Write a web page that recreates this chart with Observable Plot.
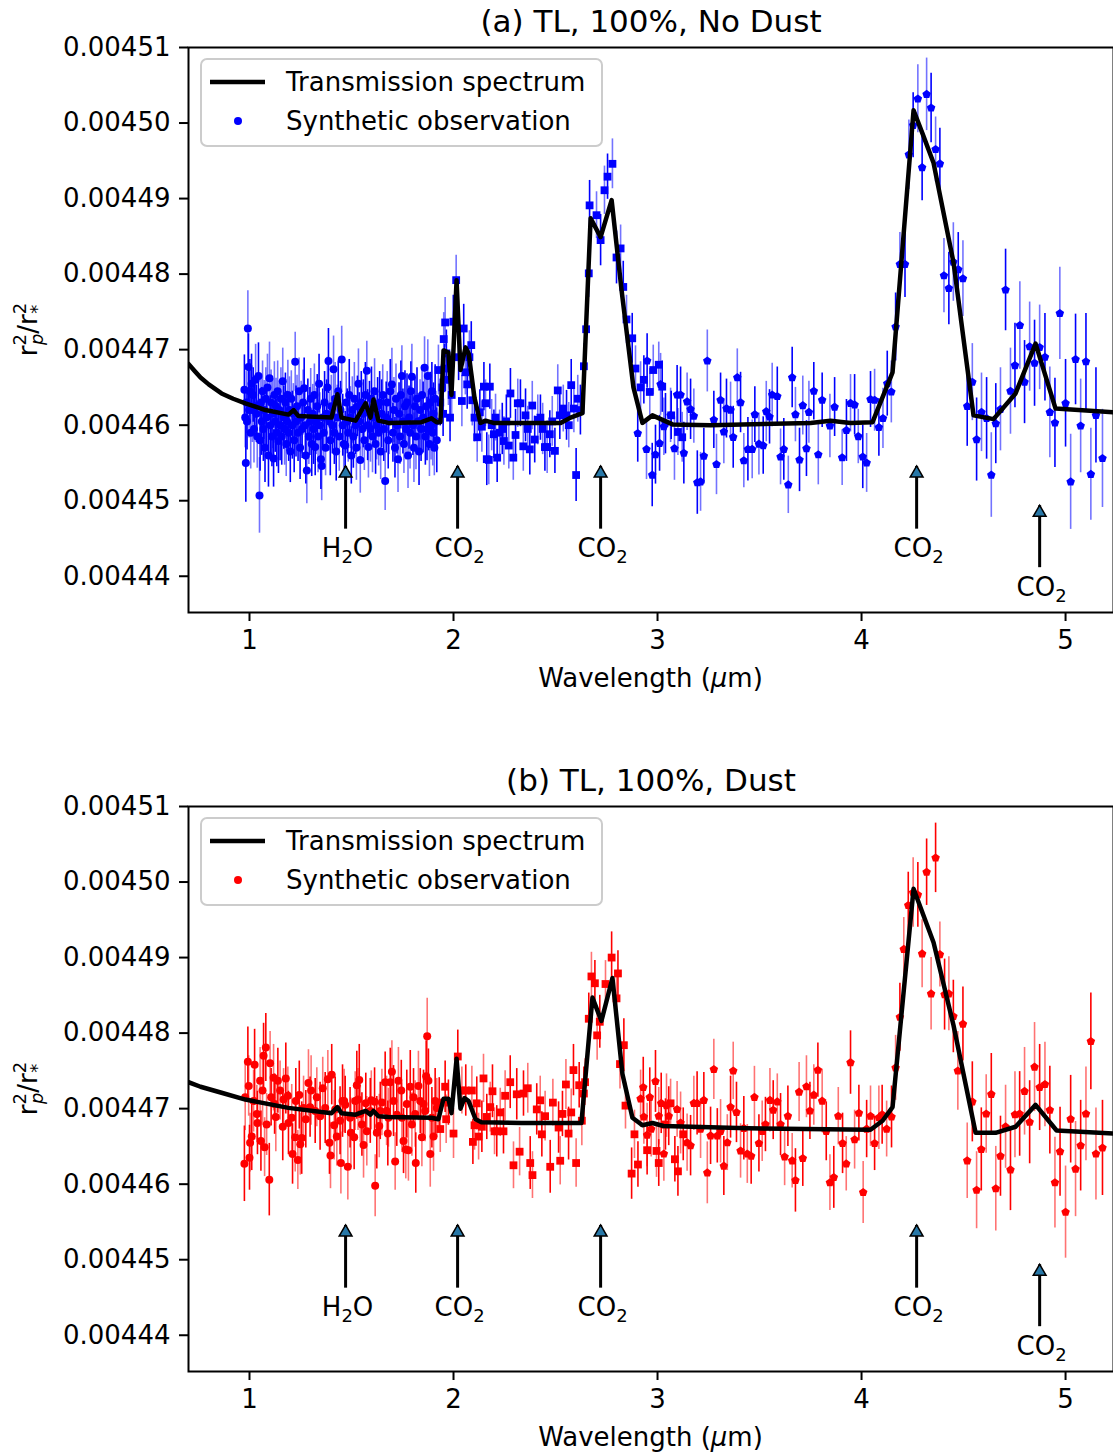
<!DOCTYPE html>
<html><head><meta charset="utf-8">
<script src="https://cdn.jsdelivr.net/npm/d3@7"></script>
<script src="https://cdn.jsdelivr.net/npm/@observablehq/plot@0.6"></script>
<style>
body{margin:0;background:#fff;}
#chart svg{display:block;}
</style></head><body><div id="chart"></div>
<script>
// ---------- axis ticks ----------
const xTicks = [1, 2, 3, 4, 5];
const yTicks = [0.00444, 0.00445, 0.00446, 0.00447, 0.00448, 0.00449, 0.00450, 0.00451];

// ---------- absorption feature annotations ----------
const annotWl = [1.471, 2.020, 2.721, 4.270, 4.873];
const annotLabel = ["H₂O", "CO₂", "CO₂", "CO₂", "CO₂"];
const annotTip = [445.46e-5, 445.46e-5, 445.46e-5, 445.46e-5, 444.94e-5];
const annotBase = [444.63e-5, 444.63e-5, 444.63e-5, 444.63e-5, 444.12e-5];

// ---------- (a) model transmission spectrum [wavelength, depth] ----------
const modelA = [[0.701,446.81e-5],[0.730,446.72e-5],[0.760,446.63e-5],[0.800,446.54e-5],[0.863,446.42e-5],[0.920,446.35e-5],[0.980,446.29e-5],[1.078,446.20e-5],[1.191,446.14e-5],[1.216,446.20e-5],[1.240,446.12e-5],[1.402,446.10e-5],[1.431,446.41e-5],[1.451,446.10e-5],[1.520,446.06e-5],[1.569,446.29e-5],[1.593,446.10e-5],[1.608,446.34e-5],[1.632,446.06e-5],[1.681,446.03e-5],[1.843,446.04e-5],[1.892,446.09e-5],[1.917,446.04e-5],[1.936,446.04e-5],[1.951,446.99e-5],[1.975,446.96e-5],[1.990,446.40e-5],[2.015,447.92e-5],[2.034,446.73e-5],[2.059,447.03e-5],[2.074,446.95e-5],[2.103,446.36e-5],[2.132,446.03e-5],[2.157,446.06e-5],[2.196,446.03e-5],[2.525,446.03e-5],[2.574,446.10e-5],[2.632,446.16e-5],[2.672,448.74e-5],[2.721,448.49e-5],[2.775,448.98e-5],[2.824,447.78e-5],[2.882,446.50e-5],[2.926,446.03e-5],[2.975,446.13e-5],[3.074,446.01e-5],[3.260,446.00e-5],[3.750,446.03e-5],[3.848,446.06e-5],[3.946,446.03e-5],[4.054,446.04e-5],[4.152,446.70e-5],[4.255,450.17e-5],[4.299,449.86e-5],[4.353,449.47e-5],[4.451,448.15e-5],[4.549,446.13e-5],[4.647,446.08e-5],[4.755,446.42e-5],[4.853,447.08e-5],[4.951,446.22e-5],[5.235,446.17e-5]];

// ---------- (b) model transmission spectrum ----------
const modelB = [[0.701,447.35e-5],[0.760,447.29e-5],[0.863,447.21e-5],[0.980,447.12e-5],[1.191,447.01e-5],[1.402,446.94e-5],[1.431,447.02e-5],[1.451,446.94e-5],[1.520,446.92e-5],[1.569,446.97e-5],[1.593,446.92e-5],[1.608,446.97e-5],[1.632,446.90e-5],[1.681,446.89e-5],[1.892,446.88e-5],[1.926,446.86e-5],[1.951,447.13e-5],[1.975,447.13e-5],[1.990,446.94e-5],[2.015,447.66e-5],[2.034,447.00e-5],[2.054,447.14e-5],[2.074,447.10e-5],[2.108,446.86e-5],[2.137,446.82e-5],[2.333,446.81e-5],[2.627,446.81e-5],[2.681,448.47e-5],[2.725,448.16e-5],[2.779,448.73e-5],[2.828,447.46e-5],[2.877,446.88e-5],[2.926,446.78e-5],[2.975,446.81e-5],[3.029,446.77e-5],[3.441,446.74e-5],[4.044,446.72e-5],[4.103,446.84e-5],[4.152,447.02e-5],[4.255,449.91e-5],[4.353,449.20e-5],[4.451,448.10e-5],[4.559,446.68e-5],[4.657,446.68e-5],[4.755,446.76e-5],[4.853,447.05e-5],[4.956,446.71e-5],[5.235,446.67e-5]];

// ---------- (a) synthetic observations [wavelength, depth, 1σ] ----------
const obsA_circ = [[0.975,446.47e-5,4.6e-6],[0.979,446.10e-5,4.0e-6],[0.982,445.50e-5,5.2e-6],[0.985,446.30e-5,4.1e-6],[0.988,446.05e-5,3.8e-6],[0.992,447.28e-5,5.0e-6],[0.995,446.77e-5,4.4e-6],[0.998,446.20e-5,3.7e-6],[1.002,446.45e-5,4.2e-6],[1.006,445.90e-5,4.8e-6],[1.010,446.55e-5,3.9e-6],[1.014,446.20e-5,4.3e-6],[1.018,446.40e-5,3.6e-6],[1.022,445.95e-5,4.5e-6],[1.026,446.25e-5,4.0e-6],[1.030,446.60e-5,4.7e-6],[1.034,446.15e-5,3.8e-6],[1.038,445.85e-5,4.2e-6],[1.044,446.65e-5,4.4e-6],[1.049,445.07e-5,5.0e-6],[1.052,445.80e-5,4.1e-6],[1.056,446.30e-5,3.7e-6],[1.060,446.05e-5,4.5e-6],[1.064,446.45e-5,4.0e-6],[1.068,445.95e-5,4.3e-6],[1.072,446.20e-5,3.9e-6],[1.076,445.70e-5,4.6e-6],[1.080,446.35e-5,4.1e-6],[1.084,446.10e-5,3.8e-6],[1.088,446.50e-5,4.4e-6],[1.093,445.60e-5,4.2e-6],[1.098,446.62e-5,4.8e-6],[1.102,446.00e-5,3.9e-6],[1.106,446.30e-5,4.3e-6],[1.110,445.85e-5,4.0e-6],[1.114,446.15e-5,4.6e-6],[1.118,445.56e-5,3.8e-6],[1.122,446.40e-5,4.4e-6],[1.126,446.05e-5,4.1e-6],[1.130,446.25e-5,3.7e-6],[1.134,445.90e-5,4.5e-6],[1.138,446.45e-5,4.0e-6],[1.142,445.79e-5,4.3e-6],[1.146,446.20e-5,3.9e-6],[1.150,446.00e-5,4.7e-6],[1.154,446.35e-5,4.1e-6],[1.158,445.85e-5,3.8e-6],[1.163,446.58e-5,4.4e-6],[1.168,446.10e-5,4.2e-6],[1.172,445.95e-5,4.8e-6],[1.176,446.30e-5,3.9e-6],[1.180,445.75e-5,4.3e-6],[1.184,446.05e-5,4.0e-6],[1.188,446.40e-5,4.6e-6],[1.192,445.90e-5,3.8e-6],[1.196,446.20e-5,4.4e-6],[1.200,445.65e-5,4.1e-6],[1.205,446.35e-5,3.7e-6],[1.210,446.00e-5,4.5e-6],[1.215,446.15e-5,4.0e-6],[1.219,445.80e-5,4.3e-6],[1.224,446.84e-5,3.9e-6],[1.228,446.05e-5,4.7e-6],[1.233,446.25e-5,4.1e-6],[1.238,445.90e-5,3.8e-6],[1.243,446.45e-5,4.4e-6],[1.248,445.70e-5,4.2e-6],[1.253,446.10e-5,4.8e-6],[1.258,445.95e-5,3.9e-6],[1.263,446.30e-5,4.3e-6],[1.268,446.49e-5,4.0e-6],[1.272,446.00e-5,4.6e-6],[1.276,445.60e-5,3.8e-6],[1.281,445.40e-5,4.4e-6],[1.286,446.20e-5,4.1e-6],[1.291,445.85e-5,3.7e-6],[1.296,446.05e-5,4.5e-6],[1.300,446.35e-5,4.0e-6],[1.305,445.75e-5,4.3e-6],[1.310,446.15e-5,3.9e-6],[1.314,445.95e-5,4.7e-6],[1.318,446.40e-5,4.1e-6],[1.322,445.71e-5,3.8e-6],[1.327,446.05e-5,4.4e-6],[1.332,446.25e-5,4.2e-6],[1.336,445.85e-5,4.8e-6],[1.341,446.55e-5,3.9e-6],[1.345,446.00e-5,4.3e-6],[1.350,445.55e-5,4.0e-6],[1.354,445.46e-5,4.6e-6],[1.359,446.10e-5,3.8e-6],[1.364,445.90e-5,4.4e-6],[1.368,446.30e-5,4.1e-6],[1.373,445.70e-5,3.7e-6],[1.378,446.15e-5,4.5e-6],[1.382,446.50e-5,4.0e-6],[1.387,446.85e-5,4.3e-6],[1.392,446.05e-5,3.9e-6],[1.396,445.80e-5,4.7e-6],[1.401,446.25e-5,4.1e-6],[1.406,446.00e-5,3.8e-6],[1.412,446.74e-5,4.4e-6],[1.416,445.90e-5,4.2e-6],[1.420,446.35e-5,4.8e-6],[1.425,445.65e-5,3.9e-6],[1.430,446.10e-5,4.3e-6],[1.435,446.45e-5,4.0e-6],[1.440,445.85e-5,4.6e-6],[1.446,446.20e-5,3.8e-6],[1.452,446.87e-5,4.4e-6],[1.457,446.00e-5,4.1e-6],[1.462,445.75e-5,3.7e-6],[1.469,445.73e-5,4.5e-6],[1.474,446.30e-5,4.0e-6],[1.479,446.05e-5,4.3e-6],[1.484,445.90e-5,3.9e-6],[1.489,446.40e-5,4.7e-6],[1.494,446.10e-5,4.1e-6],[1.499,445.60e-5,3.8e-6],[1.504,446.20e-5,4.4e-6],[1.509,445.85e-5,4.2e-6],[1.514,446.35e-5,4.8e-6],[1.519,446.00e-5,3.9e-6],[1.524,445.70e-5,4.3e-6],[1.529,446.25e-5,4.0e-6],[1.534,446.55e-5,4.6e-6],[1.538,446.05e-5,3.8e-6],[1.543,445.54e-5,4.4e-6],[1.548,446.30e-5,4.1e-6],[1.553,445.95e-5,3.7e-6],[1.558,446.15e-5,4.5e-6],[1.563,445.80e-5,4.0e-6],[1.568,446.40e-5,4.3e-6],[1.575,446.72e-5,3.9e-6],[1.579,446.00e-5,4.7e-6],[1.583,445.71e-5,4.1e-6],[1.588,446.20e-5,3.8e-6],[1.593,445.95e-5,4.4e-6],[1.598,446.35e-5,4.2e-6],[1.603,445.85e-5,4.8e-6],[1.608,446.10e-5,3.9e-6],[1.613,446.45e-5,4.3e-6],[1.618,445.75e-5,4.0e-6],[1.623,446.00e-5,4.6e-6],[1.628,446.25e-5,3.8e-6],[1.633,445.90e-5,4.4e-6],[1.638,446.30e-5,4.1e-6],[1.643,445.65e-5,3.7e-6],[1.648,446.15e-5,4.5e-6],[1.653,446.40e-5,4.0e-6],[1.658,445.95e-5,4.3e-6],[1.665,445.26e-5,3.9e-6],[1.670,446.10e-5,4.7e-6],[1.675,446.30e-5,4.1e-6],[1.680,445.80e-5,3.8e-6],[1.685,446.05e-5,4.4e-6],[1.690,446.45e-5,4.2e-6],[1.698,446.54e-5,4.8e-6],[1.703,445.90e-5,3.9e-6],[1.708,446.20e-5,4.3e-6],[1.713,445.70e-5,4.0e-6],[1.718,446.35e-5,4.6e-6],[1.723,446.00e-5,3.8e-6],[1.728,445.55e-5,4.4e-6],[1.733,446.15e-5,4.1e-6],[1.738,445.85e-5,3.7e-6],[1.742,446.40e-5,4.5e-6],[1.747,446.65e-5,4.0e-6],[1.752,446.05e-5,4.3e-6],[1.757,445.75e-5,3.9e-6],[1.762,446.25e-5,4.7e-6],[1.767,445.95e-5,4.1e-6],[1.772,446.30e-5,3.8e-6],[1.777,445.60e-5,4.4e-6],[1.782,446.10e-5,4.2e-6],[1.787,445.90e-5,4.8e-6],[1.791,446.45e-5,3.9e-6],[1.796,446.64e-5,4.3e-6],[1.801,446.00e-5,4.0e-6],[1.806,445.70e-5,4.6e-6],[1.811,446.25e-5,3.8e-6],[1.816,445.85e-5,4.4e-6],[1.821,446.35e-5,4.1e-6],[1.826,446.05e-5,3.7e-6],[1.831,445.65e-5,4.5e-6],[1.836,446.20e-5,4.0e-6],[1.841,445.95e-5,4.3e-6],[1.846,446.40e-5,3.9e-6],[1.851,446.10e-5,4.7e-6],[1.858,446.76e-5,4.1e-6],[1.862,445.85e-5,3.8e-6],[1.866,446.25e-5,4.4e-6],[1.870,445.95e-5,4.2e-6],[1.874,446.65e-5,4.8e-6],[1.878,446.05e-5,3.9e-6],[1.882,445.75e-5,4.3e-6],[1.886,446.30e-5,4.0e-6],[1.890,446.00e-5,4.6e-6],[1.894,446.45e-5,3.8e-6],[1.898,445.90e-5,4.4e-6],[1.902,446.15e-5,4.1e-6],[1.906,445.70e-5,3.7e-6],[1.910,446.35e-5,4.5e-6],[1.914,446.05e-5,4.0e-6],[1.918,445.80e-5,4.3e-6]];

const obsA_sq = [[1.926,446.73e-5,3.3e-6],[1.935,446.30e-5,3.1e-6],[1.945,446.50e-5,3.4e-6],[1.949,446.15e-5,3.0e-6],[1.952,447.14e-5,3.5e-6],[1.956,446.75e-5,3.2e-6],[1.959,447.36e-5,3.3e-6],[1.965,446.95e-5,3.1e-6],[1.975,446.60e-5,3.4e-6],[1.983,446.10e-5,3.2e-6],[1.991,446.40e-5,3.0e-6],[1.999,447.37e-5,3.5e-6],[2.013,447.92e-5,3.3e-6],[2.025,446.90e-5,3.1e-6],[2.041,446.32e-5,3.4e-6],[2.050,447.28e-5,3.2e-6],[2.058,446.70e-5,3.0e-6],[2.067,446.54e-5,3.3e-6],[2.078,446.90e-5,3.5e-6],[2.087,447.06e-5,3.1e-6],[2.092,446.33e-5,3.4e-6],[2.103,446.10e-5,3.2e-6],[2.116,445.84e-5,3.3e-6],[2.129,446.17e-5,3.0e-6],[2.139,445.98e-5,3.4e-6],[2.149,446.51e-5,3.2e-6],[2.157,446.29e-5,3.1e-6],[2.163,445.55e-5,3.5e-6],[2.173,445.54e-5,3.3e-6],[2.178,446.51e-5,3.0e-6],[2.187,446.00e-5,3.4e-6],[2.198,445.88e-5,3.2e-6],[2.206,446.10e-5,3.1e-6],[2.214,445.57e-5,3.3e-6],[2.226,445.90e-5,3.0e-6],[2.239,445.95e-5,3.4e-6],[2.247,445.79e-5,3.2e-6],[2.259,446.05e-5,3.5e-6],[2.271,445.73e-5,3.1e-6],[2.279,446.42e-5,3.3e-6],[2.293,445.57e-5,3.0e-6],[2.304,445.87e-5,3.4e-6],[2.315,446.29e-5,3.2e-6],[2.328,446.29e-5,3.1e-6],[2.342,445.72e-5,3.3e-6],[2.353,446.13e-5,3.5e-6],[2.364,445.95e-5,3.0e-6],[2.374,445.68e-5,3.4e-6],[2.386,446.26e-5,3.2e-6],[2.398,445.81e-5,3.1e-6],[2.413,446.07e-5,3.3e-6],[2.426,446.10e-5,3.0e-6],[2.437,445.95e-5,3.4e-6],[2.448,445.71e-5,3.2e-6],[2.459,445.71e-5,3.5e-6],[2.472,445.88e-5,3.1e-6],[2.484,446.05e-5,3.3e-6],[2.497,445.66e-5,3.0e-6],[2.511,446.46e-5,3.4e-6],[2.521,446.13e-5,3.2e-6],[2.538,446.22e-5,3.1e-6],[2.554,446.13e-5,3.3e-6],[2.565,446.00e-5,3.0e-6],[2.577,446.53e-5,3.4e-6],[2.590,446.22e-5,3.2e-6],[2.601,445.34e-5,3.5e-6],[2.609,446.35e-5,3.1e-6],[2.622,446.20e-5,3.3e-6],[2.639,446.78e-5,3.0e-6],[2.650,447.27e-5,3.4e-6],[2.663,448.01e-5,3.2e-6],[2.667,448.91e-5,3.3e-6],[2.701,448.78e-5,3.1e-6],[2.721,448.45e-5,3.4e-6],[2.740,449.11e-5,3.2e-6],[2.755,449.29e-5,3.0e-6],[2.779,449.46e-5,3.3e-6],[2.799,448.22e-5,3.5e-6],[2.819,448.34e-5,3.1e-6],[2.832,447.83e-5,3.4e-6],[2.848,447.40e-5,3.2e-6],[2.876,447.15e-5,3.3e-6],[2.892,446.75e-5,3.0e-6],[2.917,446.50e-5,3.4e-6],[2.933,446.60e-5,3.2e-6],[2.962,446.44e-5,3.1e-6],[2.979,446.73e-5,3.3e-6],[3.006,446.80e-5,3.0e-6],[3.023,446.51e-5,3.4e-6],[3.067,446.13e-5,3.2e-6],[3.100,445.91e-5,3.1e-6],[3.121,445.84e-5,3.3e-6]];

const obsA_pent = [[2.903,445.89e-5,3.8e-6],[2.946,445.68e-5,4.0e-6],[2.949,446.85e-5,3.6e-6],[2.974,445.34e-5,4.2e-6],[2.990,445.61e-5,3.9e-6],[3.010,445.76e-5,3.7e-6],[3.015,446.54e-5,4.1e-6],[3.031,445.98e-5,3.8e-6],[3.039,446.02e-5,4.0e-6],[3.064,446.13e-5,3.6e-6],[3.083,445.69e-5,4.2e-6],[3.096,446.40e-5,3.9e-6],[3.113,446.40e-5,3.7e-6],[3.129,445.63e-5,4.1e-6],[3.145,446.31e-5,3.8e-6],[3.162,446.21e-5,4.0e-6],[3.178,446.12e-5,3.6e-6],[3.195,445.24e-5,4.2e-6],[3.211,445.25e-5,3.9e-6],[3.227,445.59e-5,3.7e-6],[3.244,446.85e-5,4.1e-6],[3.276,446.07e-5,3.8e-6],[3.289,445.48e-5,4.0e-6],[3.309,446.33e-5,3.6e-6],[3.325,445.91e-5,4.2e-6],[3.338,446.22e-5,3.9e-6],[3.358,446.20e-5,3.7e-6],[3.371,445.84e-5,4.1e-6],[3.391,446.63e-5,3.8e-6],[3.407,446.30e-5,4.0e-6],[3.423,445.53e-5,3.6e-6],[3.443,445.68e-5,4.2e-6],[3.464,445.68e-5,3.9e-6],[3.477,446.14e-5,3.7e-6],[3.497,445.75e-5,4.1e-6],[3.518,445.73e-5,3.8e-6],[3.533,446.18e-5,4.0e-6],[3.549,446.11e-5,3.6e-6],[3.562,446.40e-5,4.2e-6],[3.587,446.38e-5,3.9e-6],[3.603,445.58e-5,3.7e-6],[3.619,445.68e-5,4.1e-6],[3.641,445.21e-5,3.8e-6],[3.660,446.63e-5,4.0e-6],[3.676,446.14e-5,3.6e-6],[3.696,445.54e-5,4.2e-6],[3.712,446.26e-5,3.9e-6],[3.730,445.69e-5,3.7e-6],[3.742,446.17e-5,4.1e-6],[3.766,446.45e-5,3.8e-6],[3.788,445.61e-5,4.0e-6],[3.807,446.33e-5,3.6e-6],[3.845,445.99e-5,4.2e-6],[3.868,446.24e-5,3.9e-6],[3.905,445.57e-5,3.7e-6],[3.926,445.93e-5,4.1e-6],[3.946,446.29e-5,3.8e-6],[3.966,446.27e-5,4.0e-6],[3.984,445.85e-5,3.6e-6],[4.006,445.58e-5,4.2e-6],[4.025,445.50e-5,3.9e-6],[4.044,446.34e-5,3.7e-6],[4.064,446.33e-5,4.1e-6],[4.085,445.97e-5,3.8e-6],[4.105,446.09e-5,4.0e-6],[4.126,446.55e-5,4.3e-6],[4.146,446.44e-5,4.1e-6],[4.167,447.30e-5,4.5e-6],[4.188,448.13e-5,4.2e-6],[4.213,448.13e-5,4.4e-6],[4.232,449.58e-5,4.6e-6],[4.253,449.97e-5,4.3e-6],[4.276,450.32e-5,4.5e-6],[4.297,449.41e-5,4.4e-6],[4.319,450.38e-5,4.8e-6],[4.341,450.20e-5,4.6e-6],[4.363,449.65e-5,4.3e-6],[4.384,449.46e-5,4.7e-6],[4.404,447.98e-5,4.9e-6],[4.428,447.81e-5,4.8e-6],[4.450,448.16e-5,5.2e-6],[4.474,448.06e-5,4.9e-6],[4.497,447.94e-5,5.0e-6],[4.518,446.25e-5,5.3e-6],[4.543,446.57e-5,5.1e-6],[4.564,445.81e-5,5.5e-6],[4.588,446.17e-5,5.2e-6],[4.613,446.09e-5,5.4e-6],[4.636,445.34e-5,5.6e-6],[4.658,446.02e-5,5.3e-6],[4.681,446.21e-5,5.5e-6],[4.706,447.79e-5,5.4e-6],[4.730,446.45e-5,5.7e-6],[4.752,446.79e-5,5.6e-6],[4.776,447.32e-5,5.8e-6],[4.799,446.57e-5,5.5e-6],[4.824,447.04e-5,5.9e-6],[4.848,446.82e-5,5.7e-6],[4.873,447.03e-5,5.6e-6],[4.899,446.90e-5,5.8e-6],[4.923,446.17e-5,6.0e-6],[4.948,446.03e-5,5.9e-6],[4.972,447.48e-5,6.1e-6],[5.000,446.29e-5,5.8e-6],[5.025,445.25e-5,6.3e-6],[5.049,446.87e-5,6.0e-6],[5.074,445.99e-5,6.2e-6],[5.100,446.84e-5,6.4e-6],[5.124,445.35e-5,6.1e-6],[5.149,446.13e-5,6.3e-6],[5.181,445.56e-5,6.5e-6]];

// ---------- (b) synthetic observations ----------
const obsB_circ = [[0.975,446.27e-5,5.0e-6],[0.979,447.15e-5,4.4e-6],[0.992,447.62e-5,4.6e-6],[0.996,447.30e-5,4.0e-6],[1.000,446.35e-5,4.3e-6],[1.003,446.55e-5,3.9e-6],[1.011,446.63e-5,4.5e-6],[1.020,447.10e-5,4.1e-6],[1.025,447.58e-5,4.7e-6],[1.036,446.93e-5,3.8e-6],[1.039,446.81e-5,4.2e-6],[1.052,447.37e-5,4.4e-6],[1.056,446.57e-5,4.0e-6],[1.064,447.24e-5,4.6e-6],[1.069,447.70e-5,4.3e-6],[1.074,446.49e-5,3.9e-6],[1.080,447.81e-5,4.5e-6],[1.084,446.79e-5,4.1e-6],[1.097,446.06e-5,4.8e-6],[1.101,447.60e-5,4.2e-6],[1.106,447.15e-5,3.8e-6],[1.118,447.41e-5,4.4e-6],[1.123,447.06e-5,4.0e-6],[1.129,446.89e-5,4.6e-6],[1.139,447.37e-5,4.3e-6],[1.150,447.24e-5,3.9e-6],[1.163,446.76e-5,4.5e-6],[1.167,447.12e-5,4.1e-6],[1.178,447.40e-5,4.7e-6],[1.188,447.17e-5,3.8e-6],[1.191,446.81e-5,4.2e-6],[1.207,446.88e-5,4.4e-6],[1.211,446.40e-5,4.0e-6],[1.224,446.62e-5,4.6e-6],[1.227,447.10e-5,4.3e-6],[1.237,446.32e-5,3.9e-6],[1.244,447.18e-5,4.5e-6],[1.249,446.53e-5,4.1e-6],[1.256,446.61e-5,4.8e-6],[1.265,447.01e-5,4.2e-6],[1.276,446.86e-5,3.8e-6],[1.289,447.34e-5,4.4e-6],[1.297,447.02e-5,4.0e-6],[1.302,447.24e-5,4.6e-6],[1.322,446.97e-5,4.3e-6],[1.330,447.15e-5,3.9e-6],[1.346,446.90e-5,4.5e-6],[1.359,447.27e-5,4.1e-6],[1.371,447.01e-5,4.7e-6],[1.384,447.39e-5,3.8e-6],[1.392,446.55e-5,4.2e-6],[1.397,446.38e-5,4.4e-6],[1.403,447.45e-5,4.0e-6],[1.415,446.78e-5,4.6e-6],[1.420,446.99e-5,4.3e-6],[1.428,446.63e-5,3.9e-6],[1.444,446.84e-5,4.5e-6],[1.448,446.28e-5,4.1e-6],[1.456,447.10e-5,4.8e-6],[1.464,447.10e-5,4.2e-6],[1.469,447.05e-5,3.8e-6],[1.482,446.23e-5,4.4e-6],[1.493,446.88e-5,4.0e-6],[1.497,446.68e-5,4.6e-6],[1.513,446.62e-5,4.3e-6],[1.518,447.10e-5,3.9e-6],[1.526,447.31e-5,4.5e-6],[1.532,447.12e-5,4.1e-6],[1.538,447.38e-5,4.7e-6],[1.543,446.93e-5,3.8e-6],[1.551,446.79e-5,4.2e-6],[1.559,446.52e-5,4.4e-6],[1.570,447.07e-5,4.0e-6],[1.575,446.70e-5,4.6e-6],[1.592,446.97e-5,4.3e-6],[1.597,447.11e-5,3.9e-6],[1.613,447.09e-5,4.5e-6],[1.616,445.98e-5,4.1e-6],[1.624,446.68e-5,4.8e-6],[1.636,446.77e-5,4.2e-6],[1.641,446.97e-5,3.8e-6],[1.649,447.08e-5,4.4e-6],[1.665,447.35e-5,4.0e-6],[1.672,446.97e-5,4.6e-6],[1.678,446.67e-5,4.3e-6],[1.681,446.88e-5,3.9e-6],[1.690,447.35e-5,4.5e-6],[1.698,447.49e-5,4.1e-6],[1.706,447.10e-5,4.7e-6],[1.714,446.30e-5,3.8e-6],[1.722,446.92e-5,4.2e-6],[1.730,447.37e-5,4.4e-6],[1.744,447.24e-5,4.0e-6],[1.747,446.88e-5,4.6e-6],[1.755,446.57e-5,4.3e-6],[1.766,446.46e-5,3.9e-6],[1.771,447.06e-5,4.5e-6],[1.779,446.45e-5,4.1e-6],[1.788,447.29e-5,4.8e-6],[1.796,446.79e-5,4.2e-6],[1.804,447.15e-5,3.8e-6],[1.812,446.93e-5,4.4e-6],[1.815,446.28e-5,4.0e-6],[1.828,447.30e-5,4.6e-6],[1.837,447.10e-5,4.3e-6],[1.845,446.62e-5,3.9e-6],[1.853,447.06e-5,4.5e-6],[1.861,446.97e-5,4.1e-6],[1.866,447.43e-5,4.7e-6],[1.871,447.96e-5,5.0e-6],[1.877,447.37e-5,4.2e-6],[1.886,446.40e-5,4.4e-6],[1.894,446.88e-5,4.0e-6],[1.902,446.63e-5,4.6e-6],[1.910,447.10e-5,4.3e-6],[1.918,447.01e-5,3.9e-6]];

const obsB_sq = [[1.930,447.08e-5,3.3e-6],[1.935,446.73e-5,3.1e-6],[1.959,447.29e-5,3.4e-6],[1.964,446.86e-5,3.2e-6],[1.975,447.08e-5,3.0e-6],[2.000,446.67e-5,3.3e-6],[2.021,447.69e-5,3.5e-6],[2.041,447.24e-5,3.1e-6],[2.060,447.24e-5,3.4e-6],[2.090,447.24e-5,3.2e-6],[2.095,446.56e-5,3.0e-6],[2.103,446.78e-5,3.3e-6],[2.114,447.07e-5,3.5e-6],[2.123,446.63e-5,3.1e-6],[2.139,446.76e-5,3.4e-6],[2.147,447.40e-5,3.2e-6],[2.163,446.89e-5,3.0e-6],[2.180,447.02e-5,3.3e-6],[2.191,447.23e-5,3.5e-6],[2.201,446.70e-5,3.1e-6],[2.212,446.70e-5,3.4e-6],[2.229,446.95e-5,3.2e-6],[2.245,446.70e-5,3.0e-6],[2.253,447.17e-5,3.3e-6],[2.278,447.35e-5,3.5e-6],[2.294,446.25e-5,3.1e-6],[2.310,447.19e-5,3.4e-6],[2.324,446.43e-5,3.2e-6],[2.343,447.20e-5,3.0e-6],[2.364,447.27e-5,3.3e-6],[2.376,446.28e-5,3.5e-6],[2.387,446.12e-5,3.1e-6],[2.408,446.99e-5,3.4e-6],[2.425,447.11e-5,3.2e-6],[2.433,446.66e-5,3.0e-6],[2.449,446.90e-5,3.3e-6],[2.474,446.23e-5,3.5e-6],[2.487,447.08e-5,3.1e-6],[2.515,446.75e-5,3.4e-6],[2.523,446.31e-5,3.2e-6],[2.534,446.93e-5,3.0e-6],[2.551,447.32e-5,3.3e-6],[2.564,446.67e-5,3.5e-6],[2.577,446.95e-5,3.1e-6],[2.588,447.51e-5,3.4e-6],[2.601,446.28e-5,3.2e-6],[2.616,447.31e-5,3.0e-6],[2.629,446.84e-5,3.3e-6],[2.639,447.20e-5,3.5e-6],[2.645,447.35e-5,3.1e-6],[2.663,448.19e-5,3.4e-6],[2.676,448.75e-5,3.2e-6],[2.693,448.66e-5,3.0e-6],[2.704,447.97e-5,3.3e-6],[2.717,448.15e-5,3.5e-6],[2.745,448.65e-5,3.1e-6],[2.775,449.00e-5,3.4e-6],[2.799,448.46e-5,3.2e-6],[2.806,448.79e-5,3.0e-6],[2.816,447.59e-5,3.3e-6],[2.835,447.84e-5,3.5e-6],[2.843,447.04e-5,3.1e-6],[2.873,446.14e-5,3.4e-6],[2.887,446.66e-5,3.2e-6],[2.904,446.26e-5,3.0e-6],[2.949,446.45e-5,3.3e-6],[2.995,446.44e-5,3.5e-6],[3.006,446.28e-5,3.1e-6],[3.039,446.79e-5,3.4e-6],[3.064,447.07e-5,3.2e-6],[3.085,446.33e-5,3.0e-6],[3.100,446.17e-5,3.3e-6],[3.126,446.66e-5,3.5e-6]];

const obsB_pent = [[2.917,447.13e-5,3.8e-6],[2.930,447.28e-5,4.0e-6],[2.933,446.89e-5,3.6e-6],[2.949,446.65e-5,4.2e-6],[2.962,447.15e-5,3.9e-6],[2.969,446.73e-5,3.7e-6],[2.990,447.36e-5,4.1e-6],[3.006,446.90e-5,3.8e-6],[3.018,447.07e-5,4.0e-6],[3.031,446.40e-5,3.6e-6],[3.044,447.04e-5,4.2e-6],[3.055,446.90e-5,3.9e-6],[3.096,446.99e-5,3.7e-6],[3.113,446.81e-5,4.1e-6],[3.145,446.55e-5,3.8e-6],[3.162,446.51e-5,4.0e-6],[3.178,447.07e-5,3.6e-6],[3.194,447.07e-5,4.2e-6],[3.211,446.73e-5,3.9e-6],[3.227,447.11e-5,3.7e-6],[3.244,446.15e-5,4.1e-6],[3.260,446.64e-5,3.8e-6],[3.276,447.52e-5,4.0e-6],[3.293,446.64e-5,3.6e-6],[3.309,446.70e-5,4.2e-6],[3.325,446.24e-5,3.9e-6],[3.342,446.55e-5,3.7e-6],[3.358,447.02e-5,4.1e-6],[3.371,447.50e-5,3.8e-6],[3.387,446.95e-5,4.0e-6],[3.407,446.44e-5,3.6e-6],[3.423,446.74e-5,4.2e-6],[3.440,446.40e-5,3.9e-6],[3.459,446.37e-5,3.7e-6],[3.475,447.15e-5,4.1e-6],[3.497,446.54e-5,3.8e-6],[3.513,446.70e-5,4.0e-6],[3.529,446.79e-5,3.6e-6],[3.551,447.11e-5,4.2e-6],[3.567,446.98e-5,3.9e-6],[3.587,447.09e-5,3.7e-6],[3.603,446.79e-5,4.1e-6],[3.623,446.36e-5,3.8e-6],[3.639,446.90e-5,4.0e-6],[3.660,446.31e-5,3.6e-6],[3.676,446.05e-5,4.2e-6],[3.694,447.22e-5,3.9e-6],[3.712,446.34e-5,3.7e-6],[3.730,447.29e-5,4.1e-6],[3.747,446.97e-5,3.8e-6],[3.766,447.18e-5,4.0e-6],[3.786,447.51e-5,3.6e-6],[3.807,447.10e-5,4.2e-6],[3.827,446.70e-5,3.9e-6],[3.845,446.02e-5,3.7e-6],[3.864,446.09e-5,4.1e-6],[3.886,446.90e-5,3.8e-6],[3.907,446.54e-5,4.0e-6],[3.925,446.27e-5,3.6e-6],[3.946,447.61e-5,4.2e-6],[3.966,446.59e-5,3.9e-6],[3.987,446.94e-5,3.7e-6],[4.008,445.89e-5,4.1e-6],[4.025,446.73e-5,3.8e-6],[4.044,446.90e-5,4.0e-6],[4.064,446.54e-5,3.6e-6],[4.085,446.88e-5,4.2e-6],[4.101,446.92e-5,3.9e-6],[4.123,446.73e-5,3.7e-6],[4.147,446.89e-5,4.1e-6],[4.167,447.54e-5,4.3e-6],[4.188,448.21e-5,4.5e-6],[4.207,449.11e-5,4.2e-6],[4.229,449.69e-5,4.4e-6],[4.253,449.86e-5,4.6e-6],[4.276,449.83e-5,4.3e-6],[4.297,449.05e-5,4.5e-6],[4.319,450.13e-5,4.4e-6],[4.341,448.52e-5,4.8e-6],[4.363,450.32e-5,4.6e-6],[4.384,449.04e-5,4.3e-6],[4.407,448.51e-5,4.7e-6],[4.428,448.52e-5,4.9e-6],[4.450,448.22e-5,4.8e-6],[4.472,447.50e-5,5.2e-6],[4.497,448.12e-5,4.9e-6],[4.518,446.31e-5,5.0e-6],[4.543,447.09e-5,5.3e-6],[4.564,445.92e-5,5.1e-6],[4.587,446.46e-5,5.5e-6],[4.611,446.93e-5,5.2e-6],[4.636,447.19e-5,5.4e-6],[4.658,445.94e-5,5.6e-6],[4.681,446.37e-5,5.3e-6],[4.706,446.76e-5,5.5e-6],[4.730,446.19e-5,5.4e-6],[4.752,446.92e-5,5.7e-6],[4.775,446.93e-5,5.6e-6],[4.799,447.23e-5,5.8e-6],[4.824,446.82e-5,5.5e-6],[4.848,447.55e-5,5.9e-6],[4.873,447.28e-5,5.7e-6],[4.899,447.32e-5,5.6e-6],[4.923,446.98e-5,5.8e-6],[4.948,446.02e-5,6.0e-6],[4.973,446.43e-5,5.9e-6],[5.000,445.63e-5,6.1e-6],[5.025,446.86e-5,5.8e-6],[5.049,446.20e-5,6.3e-6],[5.074,446.51e-5,6.0e-6],[5.100,446.93e-5,6.2e-6],[5.124,447.89e-5,6.4e-6],[5.149,446.40e-5,6.1e-6],[5.181,446.48e-5,6.3e-6]];

// ---------- drawing ----------
const FONT = "DejaVu Sans";
const W = 1113, ML = 188, MR = 0, INNER_H = 565;

// pentagon marker (matplotlib "p")
const pentagon = {
  draw(ctx, size) {
    const R = Math.sqrt(size / 2.3776);
    for (let i = 0; i < 5; i++) {
      const a = -Math.PI / 2 + i * 2 * Math.PI / 5;
      const px = R * Math.cos(a), py = R * Math.sin(a);
      i ? ctx.lineTo(px, py) : ctx.moveTo(px, py);
    }
    ctx.closePath();
  }
};

const rows = arr => arr.map(([wl, depth, err]) => ({wl, depth, err}));
const annot = annotWl.map((wl, i) => ({wl, label: annotLabel[i], tip: annotTip[i], base: annotBase[i]}));

// turn a unicode subscript digit into a lowered, smaller tspan (mathtext look)
function subscriptify(node) {
  const txt = node.textContent;
  if (!/[₀-₉]/.test(txt)) return;
  const sel = d3.select(node);
  sel.text(null);
  let shifted = false;
  for (const ch of txt) {
    const m = "₀₁₂₃₄₅₆₇₈₉".indexOf(ch);
    if (m >= 0) {
      sel.append("tspan").attr("font-size", 18).attr("dy", 6).text(String(m));
      shifted = true;
    } else {
      const t = sel.append("tspan").text(ch);
      if (shifted) { t.attr("dy", -6); shifted = false; }
    }
  }
}

function panel({title, circ, sq, pent, model, color, mt, mb}) {
  const C = rows(circ), S = rows(sq), P = rows(pent);
  const all = [...C, ...S, ...P].sort((a, b) => a.wl - b.wl);
  const M = model.map(([wl, depth]) => ({wl, depth}));
  const height = mt + INNER_H + mb;
  const svg = Plot.plot({
    width: W, height, marginTop: mt, marginBottom: mb, marginLeft: ML, marginRight: MR,
    style: {fontFamily: FONT, fontSize: "26px", background: "white", color: "black"},
    x: {domain: [0.701, 5.235]},
    y: {domain: [443.52e-5, 451e-5]},
    marks: [
      Plot.ruleX(all, {x: "wl", y1: d => d.depth - d.err, y2: d => d.depth + d.err,
        stroke: color, strokeWidth: 1.6, strokeOpacity: (d, i) => (i % 2 ? 0.55 : 1), clip: true}),
      Plot.dot(C, {x: "wl", y: "depth", r: 4, fill: color, symbol: "circle"}),
      Plot.dot(S, {x: "wl", y: "depth", r: 4.4, fill: color, symbol: "square"}),
      Plot.dot(P, {x: "wl", y: "depth", r: 3.9, fill: color, symbol: pentagon}),
      Plot.line(M, {x: "wl", y: "depth", stroke: "black", strokeWidth: 4.5, clip: true}),
      Plot.link(annot, {x1: "wl", x2: "wl", y1: "base", y2: "tip", stroke: "black", strokeWidth: 3}),
      Plot.dot(annot, {x: "wl", y: "tip", symbol: "triangle", r: 4.75, dy: 7.4,
        fill: "#2878a8", stroke: "black", strokeWidth: 1.5}),
      Plot.text(annot, {x: "wl", y: "base", text: "label", dy: 20, dx: 2, fontSize: 26, lineAnchor: "middle", fill: "black"}),
      Plot.axisX({ticks: xTicks, tickFormat: d => String(d), tickSize: 9, tickPadding: 9,
        strokeWidth: 2, fontSize: 26, label: null}),
      Plot.axisY({ticks: yTicks, tickFormat: d3.format(".5f"), tickSize: 9, tickPadding: 9,
        strokeWidth: 2, fontSize: 26, label: null}),
      Plot.frame({stroke: "black", strokeWidth: 2}),
      Plot.text([title], {text: d => d, frameAnchor: "top", dy: -25, fontSize: 31, lineAnchor: "middle", fill: "black"})
    ]
  });

  const s = d3.select(svg);
  s.selectAll("text").each(function () { subscriptify(this); });

  // y-axis label  r_p^2 / r_*^2
  const yl = s.append("text")
    .attr("transform", `translate(37,${mt + INNER_H / 2}) rotate(-90)`)
    .attr("text-anchor", "middle").attr("font-family", FONT).attr("font-size", 26).attr("fill", "black");
  yl.append("tspan").text("r");
  yl.append("tspan").attr("font-size", 18).attr("dy", -11).text("2");
  yl.append("tspan").attr("font-size", 18).attr("font-style", "italic").attr("dx", -11).attr("dy", 17).text("p");
  yl.append("tspan").attr("dy", -6).text("/r");
  yl.append("tspan").attr("font-size", 18).attr("dy", -11).text("2");
  yl.append("tspan").attr("font-size", 18).attr("dx", -11).attr("dy", 17).text("*");

  // x-axis label
  const xl = s.append("text")
    .attr("x", ML + (W - ML - MR) / 2).attr("y", mt + INNER_H + 75)
    .attr("text-anchor", "middle").attr("font-family", FONT).attr("font-size", 26).attr("fill", "black");
  xl.append("tspan").text("Wavelength (");
  xl.append("tspan").attr("font-style", "italic").text("μ");
  xl.append("tspan").text("m)");

  // legend
  const lg = s.append("g").attr("font-family", FONT).attr("font-size", 26).attr("text-anchor", "start");
  lg.append("rect").attr("x", ML + 13).attr("y", mt + 12).attr("width", 401).attr("height", 87)
    .attr("rx", 6).attr("fill", "white").attr("fill-opacity", 0.85).attr("stroke", "#cccccc").attr("stroke-width", 2);
  lg.append("line").attr("x1", ML + 22).attr("x2", ML + 77).attr("y1", mt + 35).attr("y2", mt + 35)
    .attr("stroke", "black").attr("stroke-width", 4.5);
  lg.append("circle").attr("cx", ML + 50).attr("cy", mt + 74).attr("r", 4).attr("fill", color);
  lg.append("text").attr("x", ML + 98).attr("y", mt + 35).attr("dy", "0.35em").attr("text-anchor", "start").attr("fill", "black").text("Transmission spectrum");
  lg.append("text").attr("x", ML + 98).attr("y", mt + 74).attr("dy", "0.35em").attr("text-anchor", "start").attr("fill", "black").text("Synthetic observation");
  return svg;
}

const chart = document.getElementById("chart");
chart.appendChild(panel({title: "(a) TL, 100%, No Dust", circ: obsA_circ, sq: obsA_sq, pent: obsA_pent,
  model: modelA, color: "#0000ff", mt: 47, mb: 128}));
chart.appendChild(panel({title: "(b) TL, 100%, Dust", circ: obsB_circ, sq: obsB_sq, pent: obsB_pent,
  model: modelB, color: "#ff0000", mt: 66, mb: 84}));
</script></body></html>
